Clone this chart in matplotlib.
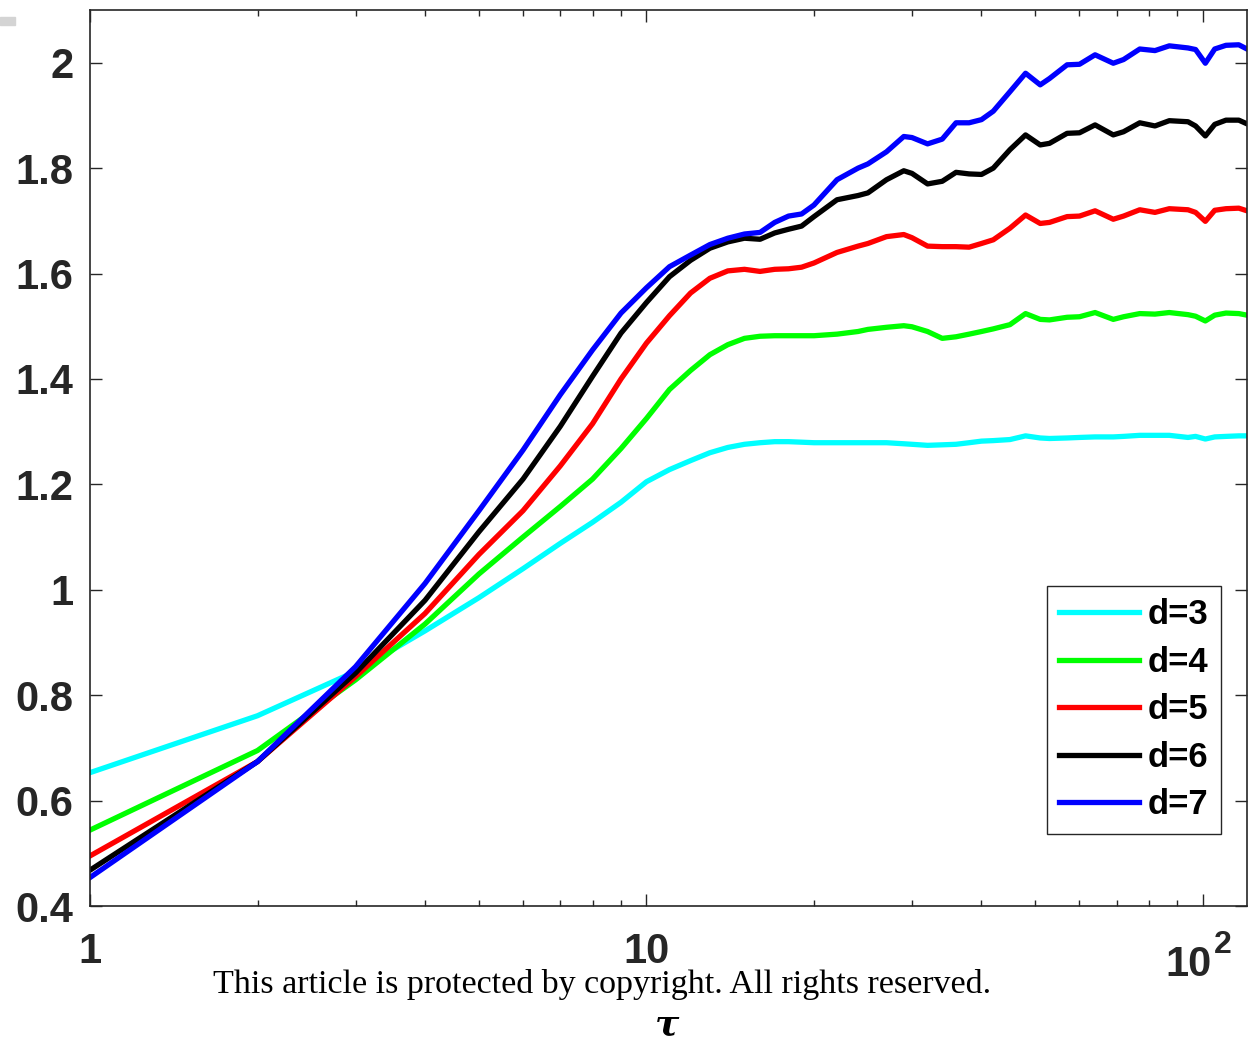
import numpy as np
import matplotlib
matplotlib.use("Agg")
import matplotlib.pyplot as plt
from matplotlib.ticker import FixedLocator, FixedFormatter, FormatStrFormatter, LogLocator, NullFormatter
from matplotlib.patches import Rectangle
from matplotlib.transforms import offset_copy

plt.rcParams['font.family'] = ['Liberation Sans', 'DejaVu Sans']

# delay values tau
tau = [1, 2, 3, 4, 5, 6, 7, 8, 9, 10, 11, 12, 13, 14, 15, 16, 17, 18, 19, 20,
       22, 24, 25, 27, 29, 30, 32, 34, 36, 38, 40, 42, 45, 48, 51, 53, 57, 60,
       64, 69, 72, 77, 82, 87, 94, 97, 101, 105, 110, 116, 120]

d3 = [0.653, 0.761, 0.845, 0.922, 0.985, 1.040, 1.088, 1.128, 1.166, 1.205,
      1.228, 1.245, 1.260, 1.270, 1.276, 1.279, 1.281, 1.281, 1.280, 1.279,
      1.279, 1.279, 1.279, 1.279, 1.277, 1.276, 1.274, 1.275, 1.276, 1.279,
      1.282, 1.283, 1.285, 1.292, 1.288, 1.287, 1.288, 1.289, 1.290, 1.290,
      1.291, 1.293, 1.293, 1.293, 1.289, 1.291, 1.286, 1.290, 1.291, 1.292, 1.292]

d4 = [0.544, 0.695, 0.829, 0.935, 1.030, 1.100, 1.158, 1.210, 1.268, 1.325,
      1.380, 1.416, 1.446, 1.465, 1.477, 1.481, 1.482, 1.482, 1.482, 1.482,
      1.485, 1.490, 1.494, 1.498, 1.501, 1.499, 1.490, 1.477, 1.480, 1.485,
      1.490, 1.495, 1.503, 1.524, 1.513, 1.512, 1.517, 1.518, 1.526, 1.513,
      1.518, 1.524, 1.523, 1.526, 1.522, 1.519, 1.510, 1.521, 1.525, 1.524, 1.521]

d5 = [0.495, 0.674, 0.835, 0.955, 1.067, 1.150, 1.235, 1.315, 1.400, 1.468,
      1.520, 1.563, 1.591, 1.605, 1.608, 1.604, 1.608, 1.609, 1.612, 1.620,
      1.640, 1.652, 1.657, 1.670, 1.674, 1.668, 1.652, 1.651, 1.651, 1.650,
      1.657, 1.664, 1.686, 1.711, 1.695, 1.697, 1.708, 1.709, 1.719, 1.703,
      1.709, 1.721, 1.716, 1.723, 1.721, 1.716, 1.699, 1.720, 1.723, 1.724, 1.719]

d6 = [0.468, 0.674, 0.842, 0.980, 1.110, 1.210, 1.310, 1.405, 1.487, 1.545,
      1.594, 1.625, 1.648, 1.660, 1.667, 1.665, 1.677, 1.684, 1.690, 1.708,
      1.740, 1.748, 1.753, 1.778, 1.795, 1.790, 1.770, 1.775, 1.792, 1.789,
      1.788, 1.800, 1.835, 1.863, 1.844, 1.847, 1.866, 1.867, 1.882, 1.863,
      1.869, 1.886, 1.880, 1.890, 1.888, 1.880, 1.861, 1.883, 1.891, 1.891, 1.884]

d7 = [0.454, 0.674, 0.854, 1.012, 1.150, 1.265, 1.370, 1.455, 1.525, 1.573,
      1.613, 1.635, 1.655, 1.667, 1.675, 1.678, 1.697, 1.709, 1.713, 1.730,
      1.778, 1.800, 1.808, 1.831, 1.860, 1.858, 1.846, 1.855, 1.886, 1.886,
      1.892, 1.908, 1.945, 1.980, 1.958, 1.970, 1.996, 1.997, 2.015, 1.999,
      2.006, 2.026, 2.023, 2.032, 2.028, 2.025, 1.999, 2.026, 2.033, 2.034, 2.026]

labels = ['d=3', 'd=4', 'd=5', 'd=6', 'd=7']
colors = ['#00ffff', '#00ff00', '#ff0000', '#000000', '#0000ff']
ytick_vals = [0.4, 0.6, 0.8, 1.0, 1.2, 1.4, 1.6, 1.8, 2.0]
xtick_vals = [1, 10, 100]
xtick_labels = ['1', '10', '']  # 10^2 is drawn by hand below

ink = '#262626'

fig = plt.figure(figsize=(12.48, 10.39), dpi=100)
ax = fig.add_axes([90 / 1248, 133 / 1039, 1157 / 1248, 896 / 1039])

for ys, lab, c in zip([d3, d4, d5, d6, d7], labels, colors):
    ax.plot(tau, ys, color=c, lw=3.8, label=lab, solid_joinstyle='round')

ax.set_xscale('log')
ax.set_xlim(1, 120)
ax.set_ylim(0.4, 2.1)

ax.xaxis.set_major_locator(FixedLocator(xtick_vals))
ax.xaxis.set_major_formatter(FixedFormatter(xtick_labels))
ax.xaxis.set_minor_locator(LogLocator(base=10, subs=np.arange(2, 10), numticks=20))
ax.xaxis.set_minor_formatter(NullFormatter())
ax.yaxis.set_major_locator(FixedLocator(ytick_vals))
ax.yaxis.set_major_formatter(FormatStrFormatter('%g'))

ax.tick_params(which='both', direction='in', top=True, right=True, color=ink,
               labelcolor=ink, width=1.0)
ax.tick_params(which='major', length=8.5, labelsize=30)
ax.tick_params(which='minor', length=4.5)
ax.tick_params(axis='x', which='major', pad=19)
ax.tick_params(axis='y', which='major', pad=12)
for lbl in ax.get_xticklabels() + ax.get_yticklabels():
    lbl.set_fontweight('bold')

# "10" with a raised "2" under the 100 tick
xt = ax.get_xaxis_transform()
ax.text(100, 0, '10', transform=offset_copy(xt, fig=fig, x=9, y=-70, units='dots'),
        ha='right', va='baseline', fontsize=30, fontweight='bold', color=ink, clip_on=False)
ax.text(100, 0, '2', transform=offset_copy(xt, fig=fig, x=11, y=-24, units='dots'),
        ha='left', va='top', fontsize=23, fontweight='bold', color=ink, clip_on=False)

for sp in ax.spines.values():
    sp.set_color(ink)
    sp.set_linewidth(1.2)

# axis label placed as figure text so it sits under the copyright line
fig.text(667 / 1248, 1 - 1024 / 1039, 'τ', fontsize=26, fontweight='bold',
         style='italic', family='DejaVu Serif', ha='center', va='center', color='black')

leg = ax.legend(loc='upper left', bbox_to_anchor=(1047 / 1248, 1 - 586 / 1039),
                bbox_transform=fig.transFigure, borderaxespad=0,
                prop={'weight': 'bold', 'size': 25}, handlelength=2.3,
                handletextpad=0.26, labelspacing=0.42, borderpad=0.35,
                fancybox=False, framealpha=1, edgecolor=ink)
leg.get_frame().set_linewidth(1.0)
for t in leg.get_texts():
    t.set_color('black')

fig.text(602 / 1248, 1 - 993 / 1039, 'This article is protected by copyright. All rights reserved.',
         family='Liberation Serif', fontsize=24.5, ha='center', va='baseline', color='black')

fig.patches.append(Rectangle((0, 1 - 25 / 1039), 15 / 1248, 8 / 1039,
                             transform=fig.transFigure, color='#d4d4d4', zorder=0))

fig.savefig('out.png', dpi=100)
